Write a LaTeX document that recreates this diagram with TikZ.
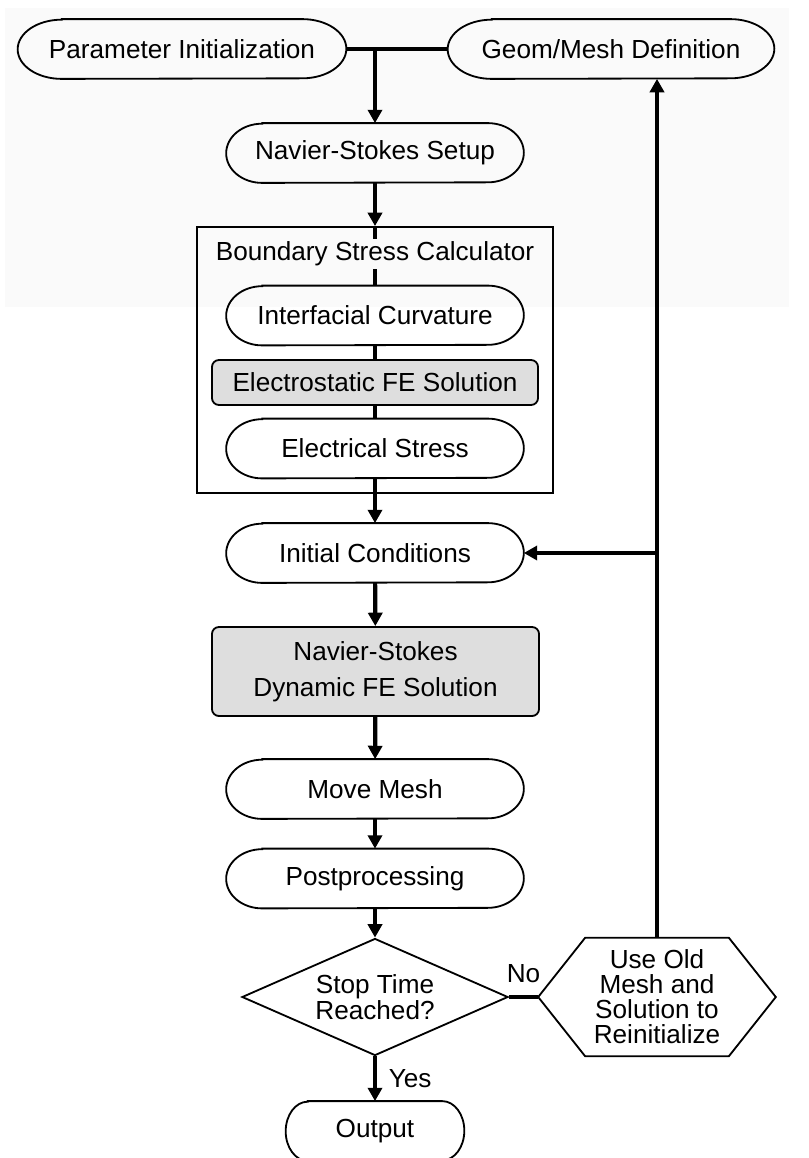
\documentclass[tikz,border=0pt]{standalone}
\usepackage{fontspec}
\setmainfont{Liberation Sans}
\usetikzlibrary{positioning,shapes.geometric,arrows.meta,calc}
\definecolor{bggray}{RGB}{250,250,250}
\definecolor{boxgray}{RGB}{222,222,222}

\begin{document}
\begin{tikzpicture}[x=0.025cm,y=-0.025cm,
  every node/.style={font=\fontsize{18.6}{18.2}\selectfont},
  oval/.style={rectangle,minimum width=7.425cm,minimum height=1.48cm,inner sep=0pt},
  solver/.style={rectangle,rounded corners=5pt,draw,line width=1.3pt,fill=boxgray,minimum width=8.15cm,inner sep=0pt,align=center},
  link/.style={line width=3pt},
  flow/.style={line width=3pt,-{Triangle[length=9.5pt,width=10pt]}}]

\useasboundingbox (0,0) rectangle (809,1158);
\fill[bggray] (5,8) rectangle (789,307);

\node[oval,minimum width=8.2cm] (param) at (182,49) {Parameter Initialization};
\node[oval,minimum width=8.15cm] (geom) at (611,49) {Geom/Mesh Definition};
\node[oval] (nssetup) at (375,153) {Navier-Stokes Setup};

\node[draw,line width=1.3pt,minimum width=8.9cm,minimum height=6.65cm,inner sep=0pt] (bsc) at (375,360) {};
\node[oval] (curv) at (375,315.5) {Interfacial Curvature};
\node[solver,minimum height=1.125cm] (estat) at (375,382.5) {Electrostatic FE Solution};
\node[oval] (estress) at (375,448.5) {Electrical Stress};

\node[oval] (init) at (375,553) {Initial Conditions};
\node[solver,minimum width=8.175cm,minimum height=2.225cm,font=\fontsize{18.6}{25.6}\selectfont] (nsdyn) at (375.5,671.5) {Navier-Stokes\\Dynamic FE Solution};
\node[oval] (move) at (375,789) {Move Mesh};
\node[oval] (post) at (375,878.5) {Postprocessing};
\node[diamond,draw,line width=1.3pt,fill=white,aspect=2.27,minimum width=6.65cm,minimum height=2.925cm,inner sep=0pt,align=center] (stop) at (375,997) {Stop Time\\Reached?};
\node[minimum width=5.925cm,minimum height=2.95cm,inner sep=0pt,align=center,font=\fontsize{18.6}{17.8}\selectfont] (reinit) at (657,997) {Use Old\\Mesh and\\Solution to\\Reinitialize};
\draw[line width=1.3pt] (reinit.west) -- ($(reinit.north west)+(47,0)$) -- ($(reinit.north east)+(-47,0)$) -- (reinit.east) -- ($(reinit.south east)+(-47,0)$) -- ($(reinit.south west)+(47,0)$) -- cycle;
\node[oval,minimum width=4.45cm] (out) at (375,1131) {Output};

% oval outlines with elliptic ends
\foreach \n/\r in {param/1.1,geom/1.1,nssetup/0.9,curv/0.9,estress/0.9,init/0.9,move/0.9,post/0.9,out/0.55}
	\draw[line width=1.3pt] ($(\n.north west)+(\r*40,0)$) -- ($(\n.north east)-(\r*40,0)$)
		arc[start angle=90,end angle=-90,x radius=\r cm,y radius=0.74cm]
		-- ($(\n.south west)+(\r*40,0)$)
		arc[start angle=270,end angle=90,x radius=\r cm,y radius=0.74cm] -- cycle;

\coordinate (j1) at (nssetup.north |- param.east);
\coordinate (j2) at (reinit.north |- init.east);
\draw[link] (param.east)--(geom.west);
\draw[flow] (j1)--(nssetup.north);
\draw[flow] (nssetup)--(bsc.north);
\draw[link] (bsc.north)--(curv.north);
\foreach \a/\b in {curv/estat,estat/estress,estress/bsc.south}
	\draw[link] (\a)--(\b);
\foreach \a/\b in {bsc.south/init,init/nsdyn,nsdyn/move,move/post,post/stop}
	\draw[flow] (\a)--(\b);
\draw[link] (stop.east)--node[above=5pt]{No}(reinit.west);
\draw[flow] (stop.south)--node[right=5pt]{Yes}(out.north);
\draw[flow] (reinit.north)--(reinit.north |- geom.south);
\draw[flow] (j2)--(init.east);

\node[fill=bggray,inner sep=2pt] (bsctitle) at (375,254) {Boundary Stress Calculator};

\end{tikzpicture}
\end{document}
